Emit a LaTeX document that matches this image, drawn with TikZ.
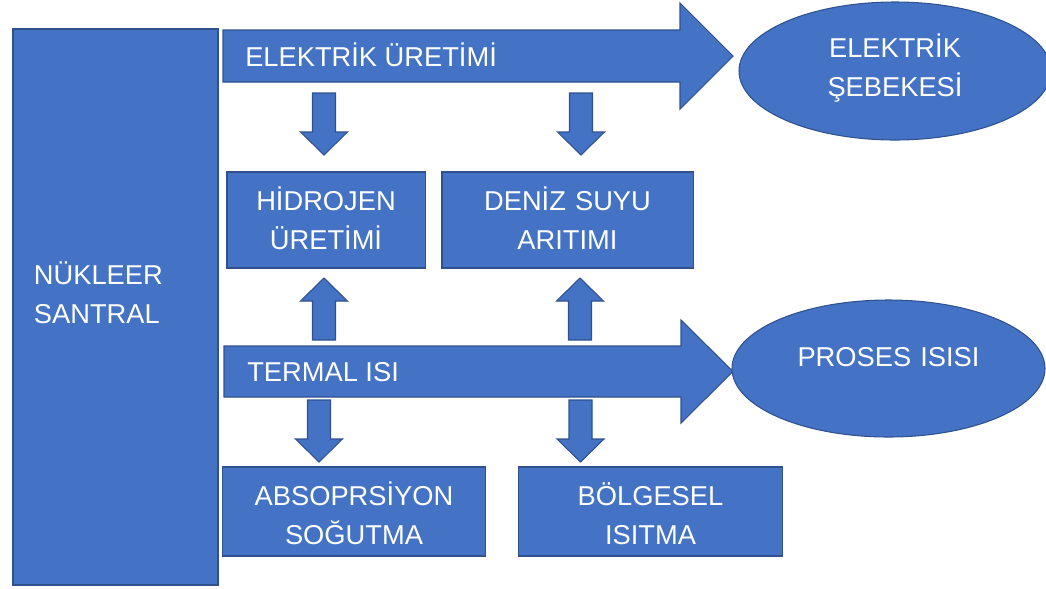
\documentclass[tikz,border=0pt]{standalone}
\usepackage{fontspec}
\setmainfont{Liberation Sans}
\usepackage{xcolor}
\usepackage{tikz}
\usetikzlibrary{shapes.geometric}
\definecolor{kutumavi}{RGB}{68,114,196}
\definecolor{kenarmavi}{RGB}{47,82,143}
\newcommand{\piks}{0.025cm}
\newcommand{\yazi}{\fontsize{19.4}{27.7}\selectfont}

\begin{document}
\begin{tikzpicture}[x=\piks,y=-\piks,
blok/.style={draw=kenarmavi,fill=kutumavi,line width=0.75pt},
etiket/.style={text=white,font=\yazi,inner sep=0pt},
kutu/.style={blok,etiket,rectangle,align=center,text height=0.4875cm,text depth=0.975cm},
elips/.style={blok,etiket,ellipse,align=center,text height=0.4875cm},
asagi/.pic={\draw[blok](-11.5,0)--(11.5,0)--(11.5,39)--(23.5,39)--(0,62)--(-23.5,39)--(-11.5,39)--cycle;},
yukari/.pic={\draw[blok](-11.5,0)--(11.5,0)--(11.5,-39)--(23.5,-39)--(0,-62)--(-23.5,-39)--(-11.5,-39)--cycle;}]
\useasboundingbox (0,0) rectangle (1046,588);
% santral
\node (santral) [kutu,align=left,text width=4.075cm,minimum width=205*\piks,minimum height=556*\piks,text depth=1.6125cm] at (115.5,307) {NÜKLEER\\SANTRAL};
% buyuk oklar
\draw[blok](223,30)--(680,30)--(680,3)--(733,56)--(680,109)--(680,82)--(223,82)--cycle;
\node (uretim) [etiket,anchor=base west] at (245,66) {ELEKTRİK ÜRETİMİ};
\draw[blok](224,346)--(681,346)--(681,320)--(733,371.5)--(681,423)--(681,397)--(224,397)--cycle;
\node (termal) [etiket,anchor=base west] at (247,381) {TERMAL ISI};
% elipsler
\node (sebeke) [elips,minimum width=312*\piks,minimum height=138*\piks,text width=5cm,text depth=1.175cm] at (895,71) {ELEKTRİK\\ŞEBEKESİ};
\node (proses) [elips,minimum width=313*\piks,minimum height=137*\piks,text width=5cm,text depth=0.6cm] at (888.5,368.5) {PROSES ISISI};
% kutular
\node (hidrojen) [kutu,text width=4.95cm,minimum height=96*\piks] at (326,220) {HİDROJEN\\ÜRETİMİ};
\node (deniz) [kutu,text width=6.275cm,minimum height=96*\piks] at (567.5,220) {DENİZ SUYU\\ARITIMI};
\node (sogutma) [kutu,text width=6.55cm,minimum height=89*\piks,text height=0.6625cm] at (354,511.5) {ABSOPRSİYON\\SOĞUTMA};
\node (isitma) [kutu,text width=6.575cm,minimum height=89*\piks,text height=0.6625cm] at (650.5,511.5) {BÖLGESEL\\ISITMA};
% kucuk oklar
\pic at (324,93) {asagi};
\pic at (581,93) {asagi};
\pic at (324,340) {yukari};
\pic at (580,340) {yukari};
\pic at (319,400) {asagi};
\pic at (580.5,400) {asagi};
\end{tikzpicture}
\end{document}
